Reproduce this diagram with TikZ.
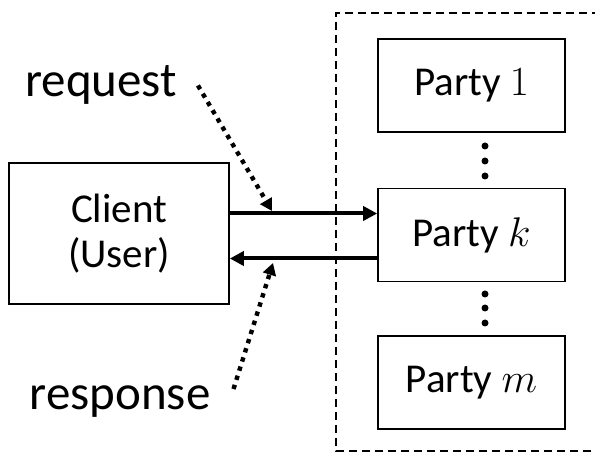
\documentclass[tikz,border=0pt]{standalone}
\usepackage[no-math]{fontspec}
\setmainfont{Carlito}
\usepackage{amsmath}
\usetikzlibrary{arrows.meta}

\tikzset{
  party/.style={rectangle,draw,line width=0.8pt,minimum width=93.5pt,minimum height=46.5pt,
    font=\fontsize{20.5}{22.5}\selectfont},
  msg/.style={line width=2pt,-{Triangle[length=7pt,width=7pt]}},
  hint/.style={line width=2.2pt,dash pattern=on 2.2pt off 2.6pt,-{Triangle[length=6pt,width=6.5pt]}},
  tag/.style={font=\fontsize{24.5}{28}\selectfont,anchor=base}
}

\begin{document}
\begin{tikzpicture}[x=0.5pt,y=-0.5pt]
\useasboundingbox (0,0) rectangle (595,454);
\path [draw,line width=0.6pt,dash pattern=on 4pt off 2.5pt] (600,13) -- (336,13) -- (336,451) -- (600,451);
\node (client) at (119,233.5) [party,minimum width=110pt,minimum height=70.5pt,align=center] {Client\\(User)};
\node (party1) at (471.5,85.5) [party] {Party $1$};
\node (partyk) at (471.5,235) [party] {Party $k$};
\node (partym) at (471.5,382.5) [party] {Party $m$};
\node (req)  at (101,97)  [tag] {request};
\node (resp) at (120,409) [tag] {response};
\coordinate (reqtip)  at (272,211);
\coordinate (resptip) at (273,263);
\draw [msg] ([yshift=10pt]client.east) to ([yshift=10pt]client.east -| partyk.west);
\draw [msg] ([yshift=-12.5pt]client.east -| partyk.west) to ([yshift=-12.5pt]client.east);
\draw [hint] ([xshift=7pt]req.east) to (reqtip);
\draw [hint] ([xshift=8pt,yshift=6pt]resp.east) to (resptip);
\foreach \y in {146,161,176,294,308,323}
  \fill (485,\y) circle (1.75pt);
\end{tikzpicture}
\end{document}
